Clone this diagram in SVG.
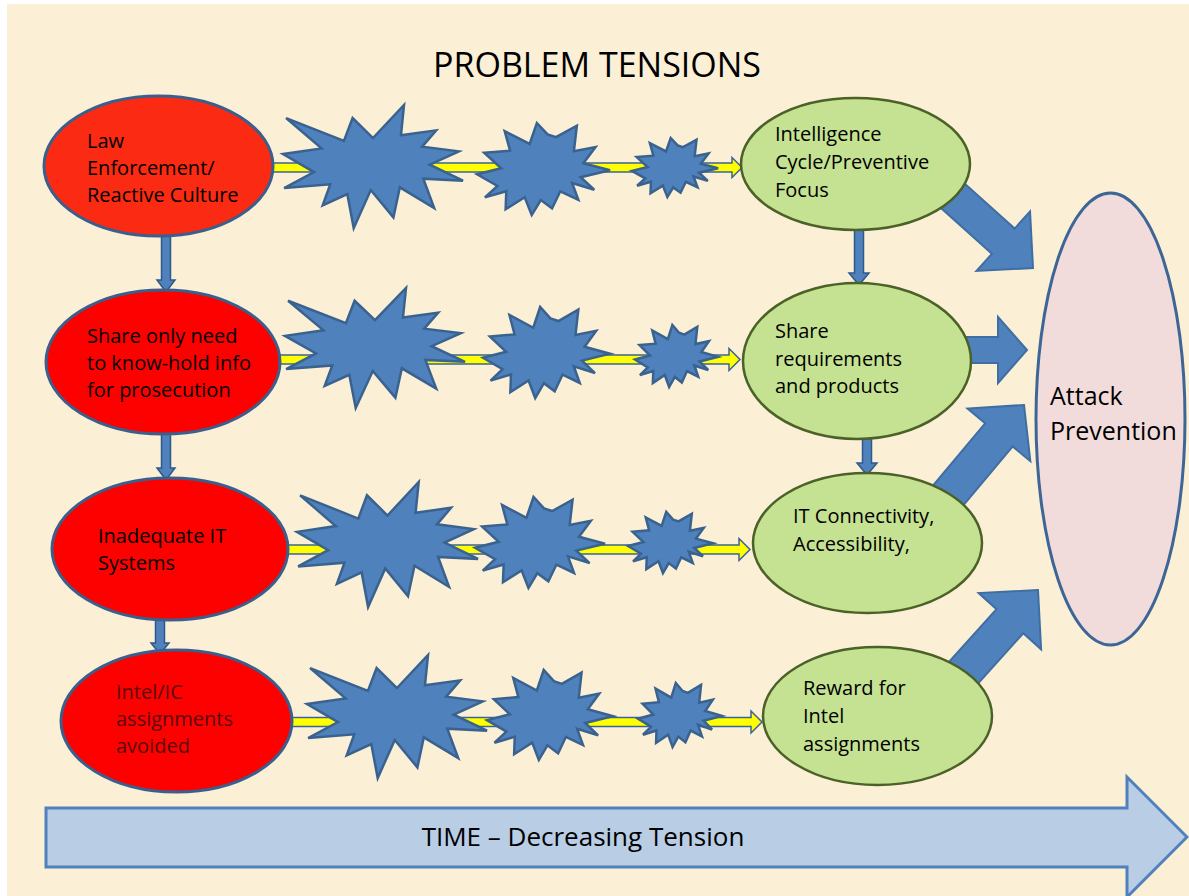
<svg xmlns="http://www.w3.org/2000/svg" xmlns:xlink="http://www.w3.org/1999/xlink" width="1189" height="896" viewBox="0 0 1189 896">
<style>
text{font-family:"Open Sans","Liberation Sans",sans-serif;fill:#000}
.lbl{font-size:20px}
.red{stroke:#3b5f8c;stroke-width:3}
.grn{fill:#c5e192;stroke:#4b6128;stroke-width:2.5}
.burst{fill:#4f81bd;stroke:#3a628f;stroke-width:2.5;stroke-linejoin:miter}
.big{fill:#4f81bd;stroke:#3f6ea3;stroke-width:2}
.down{fill:#4f81bd;stroke:#2e5a8a;stroke-width:1.5}
.yel{fill:#ffff00;stroke:#3c6494;stroke-width:1.5}
</style>
<defs>
<path id="seal1" vector-effect="non-scaling-stroke" d="M50,26.85 L38.67,10.63 L33.85,29.26 L1.71,10.63 L21.42,35.26 L0,39.88 L17.23,54.51 L0.63,67.53 L26.24,64.52 L22.05,81.56 L35.72,72.35 L39.28,100 L48.76,69.14 L61.33,91.37 L64.91,66.93 L84,83.77 L77.95,59.92 L100,61.53 L81.51,48.5 L97.67,37.67 L77.32,33.87 L85.09,20.63 L65.53,24.65 L67.23,0 Z"/>
<path id="seal2" vector-effect="non-scaling-stroke" d="M53.06,12.45 L45.01,0 L39.58,22.80 L20.84,8.81 L24.87,30.08 L5.43,32.38 L18.22,49.23 L0,55.75 L15.42,68.40 L5.95,80.85 L22.02,74.18 L21.53,93.62 L35.87,80.72 L41.14,100 L47.97,83.73 L56.44,92.69 L62.65,74.25 L76.19,83.49 L71.53,65.27 L88.17,72.58 L77.93,58.89 L100,51.31 L79.98,43.67 L89.10,26.11 L72.85,30.73 L75.06,2.94 L59.38,15.42 Z"/>
</defs>
<rect width="1189" height="896" fill="#ffffff"/>
<rect x="7" y="4" width="1182" height="892" fill="#fbefd6"/>
<text x="597" y="77" font-size="34" text-anchor="middle">PROBLEM TENSIONS</text>

<g id="connectors">
  <polygon class="yel" points="265,163 732,163 732,157.5 742,167.5 732,177.5 732,172 265,172"/>
  <polygon class="yel" points="272,355 729,355 729,348.5 740,359.5 729,370.5 729,364 272,364"/>
  <polygon class="yel" points="280,545 739,545 739,538.5 750,549.5 739,560.5 739,554 280,554"/>
  <polygon class="yel" points="288,717.5 751,717.5 751,711 762,722 751,733 751,726.5 288,726.5"/>
  <polygon class="down" points="161.5,234 170.5,234 170.5,280 175,280 166,292 157,280 161.5,280"/>
  <polygon class="down" points="161.5,433 170.5,433 170.5,468 175,468 166,480 157,468 161.5,468"/>
  <polygon class="down" points="155.5,618 164.5,618 164.5,643 169,643 160,654 151,643 155.5,643"/>
  <polygon class="down" points="854.5,228 863.5,228 863.5,273 869,273 859,285 849,273 854.5,273"/>
  <polygon class="down" points="862.5,438 871.5,438 871.5,463 877,463 867,475 857,463 862.5,463"/>
  <polygon class="big" transform="translate(1033,268) rotate(42)" points="0,0 -40,-40 -40,-17 -120,-17 -120,17 -40,17 -40,40"/>
  <polygon class="big" transform="translate(1027,350)" points="0,0 -29,-33 -29,-13 -70,-13 -70,13 -29,13 -29,33"/>
  <polygon class="big" transform="translate(1024,405) rotate(-50)" points="0,0 -39,-41 -39,-18 -130,-18 -130,18 -39,18 -39,41"/>
  <polygon class="big" transform="translate(1038,590) rotate(-48)" points="0,0 -42,-42 -42,-18 -140,-18 -140,18 -42,18 -42,42"/>
</g>

<g id="bursts">
  <use xlink:href="#seal1" href="#seal1" class="burst" transform="translate(283,105) scale(1.80,1.23)"/>
  <use xlink:href="#seal2" href="#seal2" class="burst" transform="translate(477,123) scale(1.33,0.92)"/>
  <use xlink:href="#seal2" href="#seal2" class="burst" transform="translate(632,138) scale(0.86,0.59)"/>
  <use xlink:href="#seal1" href="#seal1" class="burst" transform="translate(285,288) scale(1.80,1.20)"/>
  <use xlink:href="#seal2" href="#seal2" class="burst" transform="translate(483,307) scale(1.27,0.91)"/>
  <use xlink:href="#seal2" href="#seal2" class="burst" transform="translate(635,325) scale(0.83,0.62)"/>
  <use xlink:href="#seal1" href="#seal1" class="burst" transform="translate(297,482) scale(1.81,1.25)"/>
  <use xlink:href="#seal2" href="#seal2" class="burst" transform="translate(475,497) scale(1.30,0.91)"/>
  <use xlink:href="#seal2" href="#seal2" class="burst" transform="translate(628,512) scale(0.85,0.61)"/>
  <use xlink:href="#seal1" href="#seal1" class="burst" transform="translate(307,655) scale(1.80,1.23)"/>
  <use xlink:href="#seal2" href="#seal2" class="burst" transform="translate(487,670) scale(1.26,0.90)"/>
  <use xlink:href="#seal2" href="#seal2" class="burst" transform="translate(638,683) scale(0.84,0.64)"/>
</g>

<g id="n-law">
  <ellipse class="red" cx="158.5" cy="166" rx="114.5" ry="70" fill="#fb2a12"/>
  <text class="lbl" x="87" y="148">Law</text>
  <text class="lbl" x="87" y="175">Enforcement/</text>
  <text class="lbl" x="87" y="202">Reactive Culture</text>
</g>
<g id="n-share-only">
  <ellipse class="red" cx="163" cy="362" rx="117" ry="72" fill="#fd0000"/>
  <text class="lbl" x="87" y="343">Share only need</text>
  <text class="lbl" x="87" y="370">to know-hold info</text>
  <text class="lbl" x="87" y="397">for prosecution</text>
</g>
<g id="n-inadequate">
  <ellipse class="red" cx="170" cy="549" rx="118" ry="71" fill="#fd0000"/>
  <text class="lbl" x="98" y="543">Inadequate IT</text>
  <text class="lbl" x="98" y="570">Systems</text>
</g>
<g id="n-intel-avoided">
  <ellipse class="red" cx="176.5" cy="721" rx="115.5" ry="71" fill="#fd0000"/>
  <text class="lbl" x="116" y="699" style="fill:#5a0c0c">Intel/IC</text>
  <text class="lbl" x="116" y="726" style="fill:#5a0c0c">assignments</text>
  <text class="lbl" x="116" y="753" style="fill:#5a0c0c">avoided</text>
</g>
<g id="n-intel-cycle">
  <ellipse class="grn" cx="855.5" cy="164" rx="114.5" ry="66"/>
  <text class="lbl" x="775" y="141">Intelligence</text>
  <text class="lbl" x="775" y="169">Cycle/Preventive</text>
  <text class="lbl" x="775" y="197">Focus</text>
</g>
<g id="n-share-req">
  <ellipse class="grn" cx="857" cy="361" rx="114" ry="78"/>
  <text class="lbl" x="775" y="338">Share</text>
  <text class="lbl" x="775" y="366">requirements</text>
  <text class="lbl" x="775" y="393">and products</text>
</g>
<g id="n-it-conn">
  <ellipse class="grn" cx="867.5" cy="543" rx="114.5" ry="70"/>
  <text class="lbl" x="793" y="523">IT Connectivity,</text>
  <text class="lbl" x="793" y="551">Accessibility,</text>
</g>
<g id="n-reward">
  <ellipse class="grn" cx="877.5" cy="716" rx="114.5" ry="69"/>
  <text class="lbl" x="803" y="695">Reward for</text>
  <text class="lbl" x="803" y="723">Intel</text>
  <text class="lbl" x="803" y="751">assignments</text>
</g>
<g id="n-attack">
  <ellipse cx="1110.5" cy="419" rx="74.5" ry="226" fill="#f2dcdb" stroke="#3d6696" stroke-width="3"/>
  <text x="1050" y="405" font-size="25">Attack</text>
  <text x="1050" y="440" font-size="25">Prevention</text>
</g>
<g id="n-time">
  <polygon points="46,808 1127,808 1127,777 1187,837 1127,897 1127,867 46,867" fill="#b9cde5" stroke="#4f81bd" stroke-width="3"/>
  <text x="583" y="846" font-size="26" text-anchor="middle">TIME – Decreasing Tension</text>
</g>
</svg>
